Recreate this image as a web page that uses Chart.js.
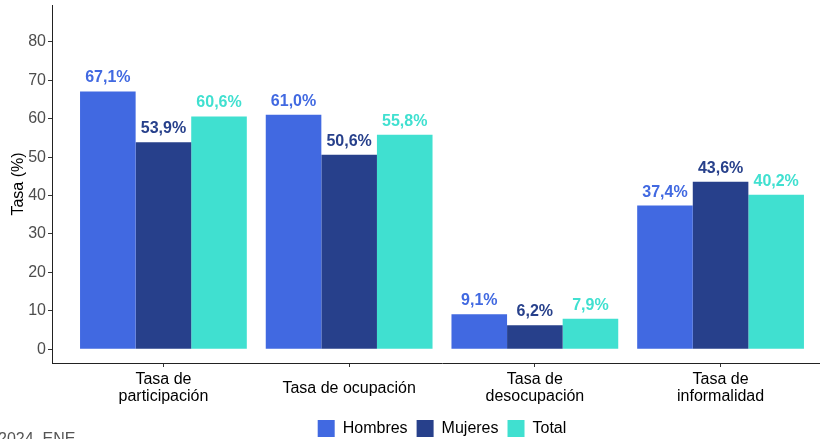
<!DOCTYPE html>
<html>
<head>
<meta charset="utf-8">
<script src="https://cdn.jsdelivr.net/npm/chart.js@4.4.1/dist/chart.umd.min.js"></script>
<style>
body { margin:0; width:820px; height:439px; overflow:hidden; background:#fff; font-family:"Liberation Sans", Arial, sans-serif; }
#wrap { position:relative; width:834px; height:447px; }
#nota { position:absolute; left:-2px; top:431px; font-size:16px; line-height:16px; color:#555; white-space:nowrap; }
</style>
</head>
<body>
<div id="wrap">
<canvas id="grafico" width="834" height="447"></canvas>
<div id="nota">2024, ENE</div>
</div>
<script>
// ===============================
// DATOS
// ===============================
const categorias = [
    ["Tasa de", "participación"],
    "Tasa de ocupación",
    ["Tasa de", "desocupación"],
    ["Tasa de", "informalidad"]
];
const hombres = [67.1, 61.0, 9.1, 37.4];
const mujeres = [53.9, 50.6, 6.2, 43.6];
const total = [60.6, 55.8, 7.9, 40.2];
const ticksY = [0, 10, 20, 30, 40, 50, 60, 70, 80];

const colores = ["#4169E1", "#27408B", "#40E0D0"];
const fuente = "'Liberation Sans', Arial, sans-serif";

function puntos(valores) {
    return valores.map((v, i) => ({ x: i, y: v }));
}

// ===============================
// ETIQUETAS SOBRE BARRAS
// ===============================
const etiquetas = {
    id: "etiquetas",
    afterDatasetsDraw(chart) {
        const ctx = chart.ctx;
        ctx.save();
        ctx.font = "bold 16px " + fuente;
        ctx.textAlign = "center";
        ctx.textBaseline = "alphabetic";
        chart.data.datasets.forEach((ds, d) => {
            chart.getDatasetMeta(d).data.forEach((bar, i) => {
                ctx.fillStyle = ds.backgroundColor;
                const txt = ds.data[i].y.toFixed(1).replace(".", ",") + "%";
                ctx.fillText(txt, bar.x, bar.y - 9);
            });
        });
        ctx.restore();
    }
};

new Chart(document.getElementById("grafico"), {
    type: "bar",
    data: {
        datasets: [
            { label: "Hombres", data: puntos(hombres), backgroundColor: colores[0] },
            { label: "Mujeres", data: puntos(mujeres), backgroundColor: colores[1] },
            { label: "Total", data: puntos(total), backgroundColor: colores[2] }
        ]
    },
    options: {
        responsive: false,
        animation: false,
        categoryPercentage: 0.898,
        barPercentage: 1,
        layout: { padding: { top: 5, right: 2, left: 0, bottom: 0 } },
        plugins: {
            legend: {
                position: "bottom",
                fullSize: false,
                labels: {
                    boxWidth: 17,
                    boxHeight: 17,
                    padding: 9,
                    color: "#000",
                    font: { family: fuente, size: 16 }
                }
            },
            tooltip: { enabled: false }
        },
        scales: {
            x: {
                type: "linear",
                offset: false,
                min: -0.6,
                max: 3.6,
                afterBuildTicks: axis => { axis.ticks = categorias.map((c, i) => ({ value: i })); },
                afterFit: axis => {
                    axis.height = 48;
                    axis.paddingLeft = 0;
                    axis.paddingRight = 0;
                },
                grid: { offset: false, drawOnChartArea: false, drawTicks: true, tickLength: 4, color: "#333" },
                border: { display: true, color: "#222", width: 1 },
                ticks: {
                    padding: 13,
                    maxRotation: 0,
                    autoSkip: false,
                    crossAlign: "center",
                    color: "#000",
                    font: { family: fuente, size: 16, lineHeight: 1.05 },
                    callback: v => categorias[v]
                }
            },
            y: {
                min: -3.6,
                max: 89.6,
                afterBuildTicks: axis => { axis.ticks = ticksY.map(v => ({ value: v })); },
                afterFit: axis => {
                    axis.width = 52;
                    axis.paddingTop = 0;
                    axis.paddingBottom = 0;
                },
                grid: { drawOnChartArea: false, drawTicks: true, tickLength: 4, color: "#333" },
                border: { display: true, color: "#222", width: 1 },
                ticks: {
                    padding: 2,
                    color: "#4d4d4d",
                    font: { family: fuente, size: 16 }
                },
                title: {
                    display: true,
                    text: "Tasa (%)",
                    color: "#000",
                    padding: { top: 9, bottom: 0 },
                    font: { family: fuente, size: 16 }
                }
            }
        }
    },
    plugins: [etiquetas]
});
</script>
</body>
</html>
